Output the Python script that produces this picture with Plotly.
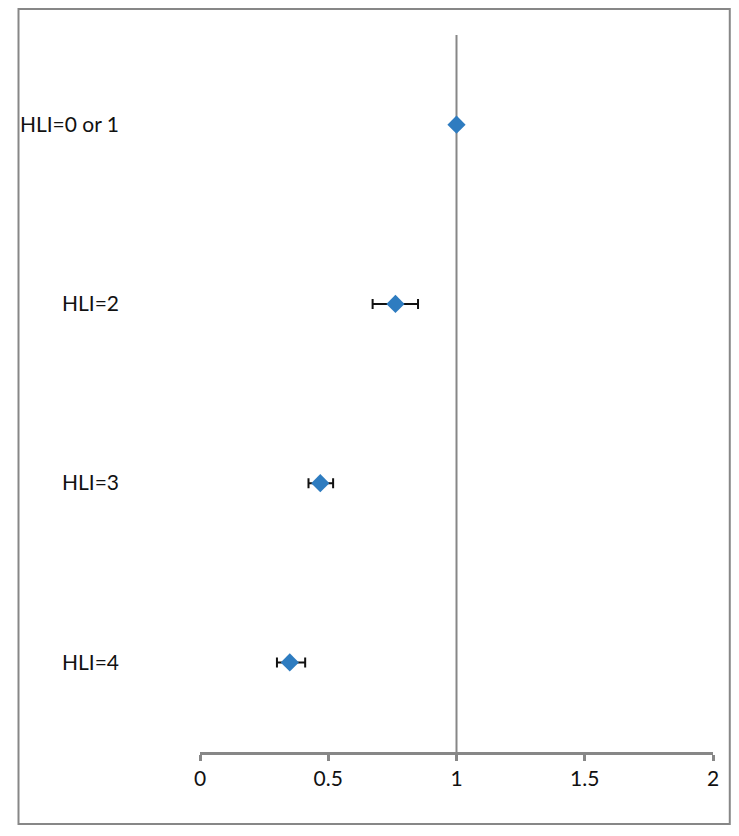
import plotly.graph_objects as go

categories = ["HLI=0 or 1", "HLI=2", "HLI=3", "HLI=4"]
estimates = [1.0, 0.762, 0.469, 0.350]
ci_lower = [1.0, 0.673, 0.423, 0.300]
ci_upper = [1.0, 0.850, 0.519, 0.410]
x_ticks = [0, 0.5, 1, 1.5, 2]
x_tick_labels = ["0", "0.5", "1", "1.5", "2"]

err_plus = [u - e for u, e in zip(ci_upper, estimates)]
err_minus = [e - l for e, l in zip(estimates, ci_lower)]

FONT = "Lato, Carlito, Calibri, sans-serif"
GRAY = "#878787"

fig = go.Figure()
fig.add_trace(go.Scatter(
    x=estimates, y=categories, mode="markers",
    marker=dict(symbol="diamond", size=14, color="#2E7CC0"),
    error_x=dict(type="data", symmetric=False, array=err_plus, arrayminus=err_minus,
                 color="#111111", thickness=2, width=5),
    showlegend=False, hoverinfo="x+y",
))

fig.add_shape(type="line", xref="x", yref="paper", x0=1, x1=1, y0=0, y1=1,
              line=dict(color=GRAY, width=2), layer="below")
# outer border
fig.add_shape(type="rect", xref="paper", yref="paper",
              x0=-0.3538, x1=1.0327, y0=-0.1004, y1=1.0363,
              line=dict(color=GRAY, width=2), fillcolor="rgba(0,0,0,0)")

fig.update_layout(
    width=723, height=820,
    margin=dict(l=185, r=18, t=27, b=76),
    paper_bgcolor="white", plot_bgcolor="white",
    font=dict(family=FONT, size=21, color="#111111"),
    xaxis=dict(range=[0, 2], tickvals=x_ticks, ticktext=x_tick_labels,
               showgrid=False, zeroline=False, showline=True, linecolor=GRAY,
               linewidth=3, ticks="outside", ticklen=6, tickwidth=3, tickcolor=GRAY,
               tickfont=dict(size=21), fixedrange=True),
    yaxis=dict(type="category", categoryorder="array", categoryarray=categories,
               range=[3.5, -0.5], showgrid=False, zeroline=False, showline=False,
               ticks="", ticklabelstandoff=80, tickfont=dict(size=21), fixedrange=True),
)

fig.write_html("out.html")
